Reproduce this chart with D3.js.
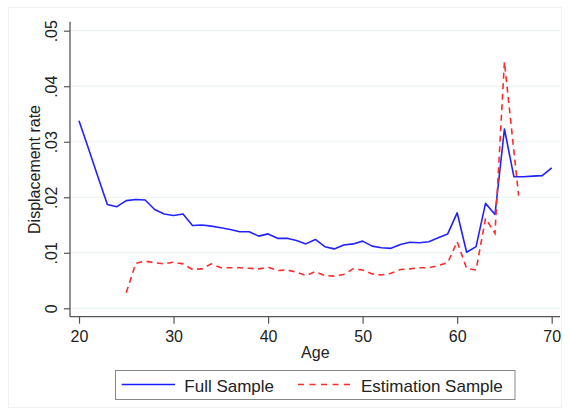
<!DOCTYPE html>
<html>
<head>
<meta charset="utf-8">
<script src="https://cdn.jsdelivr.net/npm/d3@7"></script>
<style>
  html, body { margin: 0; padding: 0; background: #fff; }
  svg { display: block; font-family: Arial, "Liberation Sans", sans-serif; }
</style>
</head>
<body>
<svg id="chart" width="570" height="414"></svg>
<script>
// Displacement rate by age, full sample vs. estimation sample
const ages = d3.range(20, 71);
const fullSample = [
  0.0338, 0.0288, 0.0237, 0.0187, 0.0183, 0.0194, 0.0196, 0.0195, 0.0178, 0.0170,
  0.0167, 0.0170, 0.0149, 0.0150, 0.0148, 0.0145, 0.0142, 0.0138, 0.0138, 0.0130,
  0.0134, 0.0126, 0.0126, 0.0122, 0.0116, 0.0124, 0.0111, 0.0107, 0.0114, 0.0116,
  0.0121, 0.0112, 0.0109, 0.0108, 0.0115, 0.0119, 0.0118, 0.0120, 0.0127, 0.0134,
  0.0172, 0.0101, 0.0111, 0.0189, 0.0169, 0.0323, 0.0237, 0.0237, 0.0238, 0.0239,
  0.0253
];
const estAges = [
  25, 26, 27, 28, 29, 30, 31, 32, 33, 34, 35, 36, 37, 38, 39, 40, 41, 42, 43, 44,
  45, 46, 47, 48, 49, 50, 51, 52, 53, 54, 55, 56, 57, 58, 59, 60, 61, 62, 63, 64,
  65, 66.5
];
const estimationSample = [
  0.0028, 0.0081, 0.0085, 0.0082, 0.0080, 0.0083, 0.0080, 0.0070, 0.0071, 0.0080,
  0.0073, 0.0073, 0.0073, 0.0072, 0.0071, 0.0074, 0.0068, 0.0069, 0.0065, 0.0059,
  0.0066, 0.0059, 0.0058, 0.0061, 0.0071, 0.0069, 0.0062, 0.0060, 0.0063, 0.0070,
  0.0071, 0.0073, 0.0073, 0.0077, 0.0082, 0.0120, 0.0072, 0.0069, 0.0162, 0.0135,
  0.0444, 0.0203
];
const xTicks = [20, 30, 40, 50, 60, 70];
const yTicks = [0, 0.01, 0.02, 0.03, 0.04, 0.05];
const yTickLabels = ["0", ".01", ".02", ".03", ".04", ".05"];
const seriesNames = ["Full Sample", "Estimation Sample"];

const svg = d3.select("#chart");

const x = d3.scaleLinear().domain([20, 70]).range([79, 551.7]);
const y = d3.scaleLinear().domain([0, 0.05]).range([308.3, 30.7]);

const plotLeft = 70, plotRight = 560, plotTop = 21.7, plotBottom = 316.7;

// faint outer graph-region border
svg.append("rect")
  .attr("x", 8.5).attr("y", 7.5).attr("width", 553).attr("height", 400)
  .attr("fill", "none").attr("stroke", "#f0f0f0").attr("stroke-width", 1);

// horizontal grid lines
svg.append("g").selectAll("line").data(yTicks).join("line")
  .attr("x1", plotLeft).attr("x2", plotRight)
  .attr("y1", d => y(d)).attr("y2", d => y(d))
  .attr("stroke", "#eaf2f2").attr("stroke-width", 1.2);

// y axis, labels turned vertical around each tick
const yAxis = svg.append("g")
  .attr("transform", `translate(${plotLeft},0)`)
  .call(d3.axisLeft(y).tickValues(yTicks)
    .tickFormat((d, i) => yTickLabels[i]).tickSize(6));
yAxis.select(".domain").remove();
yAxis.selectAll(".tick line").attr("stroke", "#555").attr("stroke-width", 1.2);
yAxis.selectAll(".tick text")
  .attr("font-size", 16).attr("fill", "#222")
  .attr("text-anchor", "middle")
  .attr("transform", "rotate(-90)")
  .attr("x", 0).attr("y", -13).attr("dy", 0);

svg.append("line")
  .attr("x1", plotLeft).attr("x2", plotLeft)
  .attr("y1", plotTop).attr("y2", plotBottom)
  .attr("stroke", "#555").attr("stroke-width", 1.3);

// x axis
const xAxis = svg.append("g")
  .attr("transform", `translate(0,${plotBottom})`)
  .call(d3.axisBottom(x).tickValues(xTicks).tickSize(7).tickPadding(2));
xAxis.select(".domain").remove();
xAxis.selectAll(".tick line").attr("stroke", "#555").attr("stroke-width", 1.2);
xAxis.selectAll(".tick text").attr("font-size", 16).attr("fill", "#222")
  .attr("dy", "1em");

svg.append("line")
  .attr("x1", plotLeft).attr("x2", plotRight)
  .attr("y1", plotBottom).attr("y2", plotBottom)
  .attr("stroke", "#555").attr("stroke-width", 1.3);

// axis titles
svg.append("text")
  .attr("x", (x(20) + x(70)) / 2).attr("y", 357.5)
  .attr("text-anchor", "middle").attr("font-size", 16).attr("fill", "#222")
  .text("Age");
svg.append("text")
  .attr("transform", `translate(40,${(y(0) + y(0.05)) / 2}) rotate(-90)`)
  .attr("text-anchor", "middle").attr("font-size", 16).attr("fill", "#222")
  .text("Displacement rate");

// series lines
const fullLine = d3.line().x((d, i) => x(ages[i])).y(d => y(d));
const estLine = d3.line().x((d, i) => x(estAges[i])).y(d => y(d));

svg.append("path").datum(fullSample)
  .attr("d", fullLine).attr("fill", "none")
  .attr("stroke", "#2222ff").attr("stroke-width", 1.6)
  .attr("stroke-linejoin", "round");

svg.append("path").datum(estimationSample)
  .attr("d", estLine).attr("fill", "none")
  .attr("stroke", "#ff2a2a").attr("stroke-width", 1.6)
  .attr("stroke-dasharray", "6,4.5");

// legend
const legend = svg.append("g");
legend.append("rect")
  .attr("x", 115.5).attr("y", 370.5).attr("width", 399.5).attr("height", 29)
  .attr("fill", "#fff").attr("stroke", "#888").attr("stroke-width", 1);
legend.append("line")
  .attr("x1", 121.7).attr("x2", 175).attr("y1", 384.5).attr("y2", 384.5)
  .attr("stroke", "#1a1aff").attr("stroke-width", 1.3);
legend.append("text")
  .attr("x", 184.3).attr("y", 391.5).attr("font-size", 17).attr("fill", "#222")
  .text(seriesNames[0]);
legend.append("line")
  .attr("x1", 298).attr("x2", 350).attr("y1", 384.5).attr("y2", 384.5)
  .attr("stroke", "#ff2a2a").attr("stroke-width", 1.3)
  .attr("stroke-dasharray", "6,5.5");
legend.append("text")
  .attr("x", 361).attr("y", 391.5).attr("font-size", 17).attr("fill", "#222")
  .text(seriesNames[1]);
</script>
</body>
</html>
